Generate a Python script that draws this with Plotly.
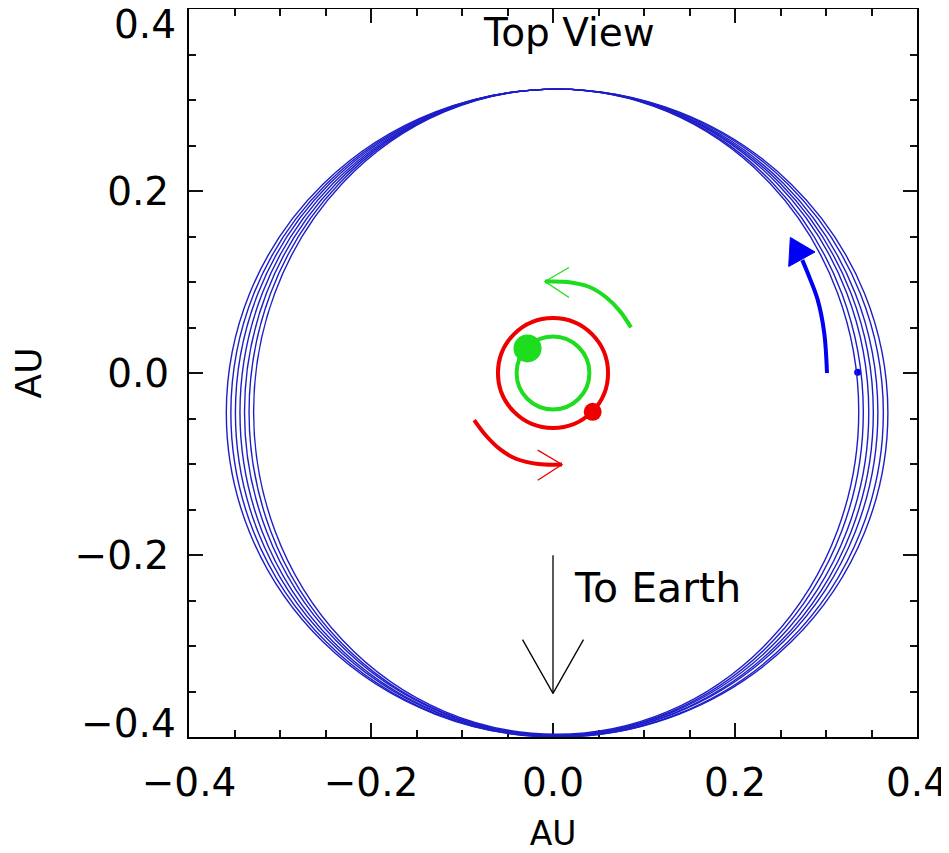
import plotly.graph_objects as go

# ---------------- data (AU) ----------------
# planet orbit traces: bounding boxes of successive ellipses
orbit_left = [-0.329, -0.334, -0.339, -0.344, -0.349, -0.354, -0.359]
orbit_right = [0.336, 0.341, 0.347, 0.352, 0.357, 0.363, 0.368]
orbit_top = [0.312, 0.312, 0.312, 0.312, 0.312, 0.312, 0.312]
orbit_bottom = [-0.397, -0.398, -0.398, -0.399, -0.399, -0.400, -0.400]

# binary star orbits (radius)
red_orbit_r = 0.0605
green_orbit_r = 0.040

# star / planet positions
green_star = (-0.028, 0.027)
red_star = (0.0436, -0.0426)
planet = (0.3348, 0.0008)

# direction arcs
green_arc_x = [0.0857, 0.0735, 0.0580, 0.0400, 0.0160, -0.0088]
green_arc_y = [0.0500, 0.0680, 0.0835, 0.0945, 0.1000, 0.1005]
green_head_x = [0.0176, -0.0088, 0.0176]
green_head_y = [0.1160, 0.1005, 0.0830]

red_arc_x = [-0.0866, -0.0735, -0.0580, -0.0400, -0.0160, 0.0099]
red_arc_y = [-0.0518, -0.0690, -0.0840, -0.0945, -0.1000, -0.1006]
red_head_x = [-0.0168, 0.0099, -0.0168]
red_head_y = [-0.0848, -0.1006, -0.1178]

blue_arc_x = [0.3011, 0.2981, 0.2909, 0.2799, 0.2740]
blue_arc_y = [0.0, 0.0437, 0.0804, 0.1098, 0.1240]
blue_head_x = [0.2608, 0.2590, 0.2879, 0.2608]
blue_head_y = [0.1490, 0.1170, 0.1330, 0.1490]

earth_shaft_x = [0.0, 0.0]
earth_shaft_y = [-0.2004, -0.3521]
earth_head_x = [-0.0335, 0.0, 0.0335]
earth_head_y = [-0.2930, -0.3521, -0.2930]

tick_vals = [-0.4, -0.2, 0.0, 0.2, 0.4]
tick_text = ["\u22120.4", "\u22120.2", "0.0", "0.2", "0.4"]

# ---------------- figure ----------------
BLUE_ORBIT = "rgb(30,30,200)"
BLUE = "rgb(0,0,245)"
GREEN = "rgb(30,220,30)"
RED = "rgb(238,0,0)"
FONT = "DejaVu Sans"
TICK_SIZE = 39

fig = go.Figure()

shapes = []
for x0, x1, y0, y1 in zip(orbit_left, orbit_right, orbit_bottom, orbit_top):
    shapes.append(dict(type="circle", xref="x", yref="y", x0=x0, x1=x1, y0=y0, y1=y1,
                       line=dict(color=BLUE_ORBIT, width=1.4), layer="above"))
shapes.append(dict(type="circle", xref="x", yref="y",
                   x0=-red_orbit_r, x1=red_orbit_r, y0=-red_orbit_r, y1=red_orbit_r,
                   line=dict(color=RED, width=4), layer="below"))
shapes.append(dict(type="circle", xref="x", yref="y",
                   x0=-green_orbit_r, x1=green_orbit_r, y0=-green_orbit_r, y1=green_orbit_r,
                   line=dict(color=GREEN, width=4), layer="below"))

def line(x, y, color, width, shape="linear"):
    fig.add_trace(go.Scatter(x=x, y=y, mode="lines", line=dict(color=color, width=width, shape=shape),
                             hoverinfo="skip", showlegend=False))

line(green_arc_x, green_arc_y, GREEN, 4, "spline")
line(green_head_x, green_head_y, GREEN, 1.3)
line(red_arc_x, red_arc_y, RED, 4, "spline")
line(red_head_x, red_head_y, RED, 1.3)
line(blue_arc_x, blue_arc_y, BLUE, 4, "spline")
fig.add_trace(go.Scatter(x=blue_head_x, y=blue_head_y, mode="lines", fill="toself",
                         fillcolor=BLUE, line=dict(color=BLUE, width=1),
                         hoverinfo="skip", showlegend=False))
line(earth_shaft_x, earth_shaft_y, "black", 1.3)
line(earth_head_x, earth_head_y, "black", 1.3)

fig.add_trace(go.Scatter(x=[green_star[0]], y=[green_star[1]], mode="markers",
                         marker=dict(color=GREEN, size=28, line=dict(width=0)), showlegend=False))
fig.add_trace(go.Scatter(x=[red_star[0]], y=[red_star[1]], mode="markers",
                         marker=dict(color=RED, size=18, line=dict(width=0)), showlegend=False))
fig.add_trace(go.Scatter(x=[planet[0]], y=[planet[1]], mode="markers",
                         marker=dict(color=BLUE, size=7, line=dict(width=0)), showlegend=False))

axis_common = dict(
    range=[-0.4, 0.4], showgrid=False, zeroline=False,
    showline=True, linecolor="black", linewidth=2, mirror="allticks",
    ticks="inside", ticklen=14, tickwidth=1.6, tickcolor="#111",
    tickvals=tick_vals,
    tickfont=dict(family=FONT, size=TICK_SIZE, color="black"),
    minor=dict(ticks="inside", ticklen=7, tickwidth=1.6, tickcolor="#111", dtick=0.05, tick0=0),
)

fig.update_xaxes(**axis_common, ticktext=tick_text, ticklabelstandoff=10,
                 title=dict(text="AU", font=dict(family=FONT, size=33, color="black"), standoff=33))
fig.update_yaxes(**axis_common, ticktext=["", "\u22120.2", "0.0", "0.2", ""], ticklabelstandoff=10,
                 scaleanchor="x", scaleratio=1,
                 title=dict(text="AU", font=dict(family=FONT, size=36, color="black"), standoff=30))

annotations = [
    dict(text="Top View", x=0.0176, y=0.3744, xref="x", yref="y", xanchor="center", yanchor="middle",
         showarrow=False, font=dict(family=FONT, size=39, color="black")),
    dict(text="To Earth", x=0.0205, y=-0.2362, xref="x", yref="y", xanchor="left", yanchor="middle",
         showarrow=False, font=dict(family=FONT, size=41, color="black")),
    dict(text=tick_text[4], x=0, xref="paper", xanchor="right", xshift=-12, y=tick_vals[4], yref="y",
         yanchor="top", yshift=8, borderpad=0, showarrow=False,
         font=dict(family=FONT, size=TICK_SIZE, color="black")),
    dict(text=tick_text[0], x=0, xref="paper", xanchor="right", xshift=-12, y=tick_vals[0], yref="y",
         yanchor="bottom", yshift=-10, borderpad=0, showarrow=False,
         font=dict(family=FONT, size=TICK_SIZE, color="black")),
]

# the page body adds an 8 px offset, so the figure is 8 px smaller than the window
fig.update_layout(
    width=941, height=845,
    margin=dict(l=181, r=32, t=1, b=116, autoexpand=False),
    paper_bgcolor="white", plot_bgcolor="white",
    shapes=shapes, annotations=annotations, showlegend=False,
)

fig.write_html("out.html")
